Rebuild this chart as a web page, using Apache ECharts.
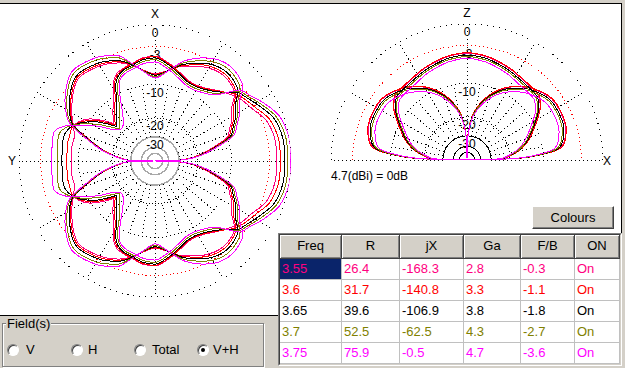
<!DOCTYPE html>
<html>
<head>
<meta charset="utf-8">
<script src="https://cdn.jsdelivr.net/npm/echarts@6.0.0/dist/echarts.min.js"></script>
<style>
html,body{margin:0;padding:0}
body{width:625px;height:368px;overflow:hidden;background:#d4d0c8;position:relative;font-family:"Liberation Sans",Arial,sans-serif}
#panel{position:absolute;left:0;top:3px;width:622px;height:313px;background:#fff;border-top:1px solid #000;border-right:1px solid #000;border-bottom:1px solid #000;box-sizing:border-box}
#chart{position:absolute;left:0;top:0;width:625px;height:368px}
#chart svg path{shape-rendering:crispEdges}
#tbl{position:absolute;left:278px;top:233px;width:344px;height:133px;background:#fff;box-sizing:border-box;border-top:1px solid #808080;border-left:1px solid #808080;border-right:1px solid #fff;border-bottom:1px solid #fff}
#tblIn{position:absolute;left:0;top:0;right:0;bottom:0;border-top:1px solid #404040;border-left:1px solid #404040;border-right:1px solid #d4d0c8;border-bottom:1px solid #d4d0c8}
.c{position:absolute;box-sizing:border-box;font-size:13px;line-height:20px;white-space:nowrap;overflow:hidden}
.h{background:#d4d0c8;text-align:center;color:#000;border-right:1px solid #404040;border-bottom:1px solid #404040;box-shadow:inset 1px 1px 0 #fff,inset -1px -1px 0 #808080;line-height:22px}
.d{border-right:1px solid #c0c0c0;border-bottom:1px solid #c0c0c0;padding-left:2px}
#field{position:absolute;left:2px;top:323px;width:260px;height:42px;border:1px solid #808080;box-shadow:1px 1px 0 #fff,inset 1px 1px 0 #fff}
#fieldLab{position:absolute;left:6px;top:316px;background:#d4d0c8;padding:0 1px;font-size:13px;line-height:16px}
.rb{position:absolute;top:344px;width:12px;height:12px;border-radius:50%;box-sizing:border-box;background:#fff;border:1px solid;border-color:#808080 #fff #fff #808080;box-shadow:inset 1px 1px 0 #404040}
.rb.on::after{content:"";position:absolute;left:3px;top:3px;width:4px;height:4px;border-radius:50%;background:#000}
.rl{position:absolute;top:342px;font-size:13px;line-height:16px}
#btn{position:absolute;left:532px;top:206px;width:82px;height:23px;box-sizing:border-box;background:#d4d0c8;border:1px solid;border-color:#fff #404040 #404040 #fff;box-shadow:inset -1px -1px 0 #808080;font-size:13px;text-align:center;line-height:21px}
</style>
</head>
<body>
<div id="panel"></div>
<div id="chart"></div>
<div id="btn">Colours</div>
<div id="field"></div>
<div id="fieldLab">Field(s)</div>
<div class="rb" style="left:7px"></div><div class="rl" style="left:26px">V</div>
<div class="rb" style="left:71px"></div><div class="rl" style="left:88px">H</div>
<div class="rb" style="left:134px"></div><div class="rl" style="left:152px">Total</div>
<div class="rb on" style="left:197px"></div><div class="rl" style="left:213px">V+H</div>
<div id="tbl"><div id="tblIn"></div></div>
<script>
// ---------- table data ----------
const freqs = ['3.55','3.6','3.65','3.7','3.75'];
const resR  = ['26.4','31.7','39.6','52.5','75.9'];
const resJX = ['-168.3','-140.8','-106.9','-62.5','-0.5'];
const gain  = ['2.8','3.3','3.8','4.3','4.7'];
const fb    = ['-0.3','-1.1','-1.8','-2.7','-3.6'];
const onOff = ['On','On','On','On','On'];
const headers = ['Freq','R','jX','Ga','F/B','ON'];
const colors = ['#ff0080','#ff0000','#000000','#808000','#ff00ff'];

// ---------- azimuth (horizontal plane) pattern, dB, angle in deg (0 = right, CCW); symmetric about the Y axis ----------
const hAngA = [0,10,20,28,35,40,48,56,62,68,75,81,90,97,103,109,114,118,122,130,138,142,147,152,157,163,170,180];
const hA_355 = [-1.9,-1.9,-2.4,-3.6,-4.3,-5.0,-6.3,-7.5,-7.9,-7.7,-6.7,-5.7,-4.5,-4.7,-5.3,-5.7,-6.2,-7.5,-9.8,-12.7,-15.5,-12.6,-9.8,-8.2,-7.5,-8.3,-8.3,-8.5];
const hA_360 = [-1.4,-1.4,-1.9,-3.1,-3.9,-4.6,-6.4,-7.6,-8.0,-7.8,-6.8,-5.8,-4.6,-4.8,-5.4,-5.8,-6.5,-7.9,-10.3,-13.4,-16.2,-13.4,-10.3,-8.5,-7.3,-7.35,-7.35,-7.55];
const hA_365 = [-0.8,-0.8,-1.3,-2.5,-3.5,-4.2,-6.6,-7.8,-8.2,-8.0,-7.0,-6.0,-4.8,-5.0,-5.6,-6.0,-6.8,-8.4,-11.0,-14.2,-17.0,-14.2,-11.0,-8.8,-7.2,-6.4,-6.4,-6.6];
const hA_370 = [-0.4,-0.4,-0.9,-2.1,-3.2,-3.9,-7.0,-8.2,-8.6,-8.4,-7.4,-6.4,-5.1,-5.3,-5.9,-6.3,-7.3,-9.3,-12.2,-15.8,-18.0,-15.8,-12.3,-9.4,-7.0,-5.5,-5.5,-5.7];
const hA_375 = [0.0,0.0,-0.5,-1.7,-2.9,-3.6,-7.4,-8.6,-9.0,-8.8,-7.8,-6.8,-5.5,-5.7,-6.3,-6.7,-7.8,-10.4,-13.5,-17.7,-18.5,-17.2,-13.6,-10.1,-6.9,-4.6,-4.6,-4.8];

const hAngB = [0,2,4,7,11,18,24,28,34,40,49,57,65,74,81,90,97,103,110,120,133,146,153,157,162,168,174,178,180];
const hB_355 = [-99,-30.8,-24.8,-20.3,-16.2,-10.2,-8.8,-7.8,-6.7,-4.7,-3.8,-3.9,-4.6,-5.6,-6.8,-7.7,-6.9,-5.7,-4.6,-3.7,-3.3,-5.3,-6.6,-7.9,-11.8,-16.3,-22.5,-28.3,-99];
const hB_360 = [-99,-30.4,-24.4,-19.9,-15.8,-9.8,-8.4,-7.4,-6.3,-4.4,-3.5,-3.6,-4.3,-5.5,-6.8,-7.8,-6.95,-5.65,-4.4,-3.45,-3.05,-5.05,-6.4,-7.75,-11.65,-16.15,-22.35,-28.15,-99];
const hB_365 = [-99,-30.0,-24.0,-19.5,-15.4,-9.4,-8.0,-7.0,-5.9,-4.0,-3.1,-3.2,-4.0,-5.3,-6.8,-8.0,-7.0,-5.6,-4.2,-3.2,-2.8,-4.8,-6.2,-7.6,-11.5,-16.0,-22.2,-28.0,-99];
const hB_370 = [-99,-29.6,-23.6,-19.1,-15.0,-9.0,-7.6,-6.6,-5.5,-3.5,-2.6,-2.7,-3.6,-5.0,-6.8,-8.3,-7.1,-5.5,-3.7,-2.65,-2.25,-4.25,-5.8,-7.3,-11.2,-15.7,-21.9,-27.7,-99];
const hB_375 = [-99,-29.2,-23.2,-18.7,-14.6,-8.6,-7.2,-6.2,-5.1,-3.0,-2.1,-2.2,-3.1,-4.7,-6.8,-8.6,-7.2,-5.4,-3.3,-2.3,-1.9,-3.9,-5.5,-7.0,-11.0,-15.5,-21.7,-27.5,-99];

// ---------- elevation (vertical plane) pattern, dB, angle 90 = zenith; symmetric about zenith ----------
const vAngA = [90,100,107,115,124,132,138,144,150,156,162,168,172,176,178,180];
const vA_355 = [-4.2,-4.45,-4.8,-5.2,-5.7,-5.9,-6.0,-7.1,-9.0,-11.0,-12.9,-15.4,-18.0,-21.0,-23.3,-99];
const vA_360 = [-4.1,-4.35,-4.7,-5.1,-5.6,-5.8,-5.9,-7.0,-8.9,-10.9,-12.8,-15.3,-17.9,-20.9,-23.2,-99];
const vA_365 = [-4.5,-4.75,-5.1,-5.5,-6.0,-6.2,-6.3,-7.4,-9.3,-11.3,-13.2,-15.7,-18.3,-21.3,-23.6,-99];
const vA_370 = [-4.75,-5.0,-5.35,-5.8,-6.3,-6.5,-6.6,-7.7,-9.6,-11.6,-13.5,-16.0,-18.6,-21.6,-23.9,-99];
const vA_375 = [-5.05,-5.35,-5.75,-6.2,-6.8,-7.0,-7.1,-8.2,-10.2,-12.2,-14.1,-16.6,-19.2,-22.2,-24.5,-99];

const vAngB = [90,92,94,98,106,114,123,132,144,155,163,172,175,178,180];
const vB_355 = [-99,-30.2,-24.2,-18.2,-13.3,-10.1,-7.7,-6.0,-4.6,-4.5,-4.8,-6.1,-8.9,-16.1,-99];
const vB_360 = [-99,-30.1,-24.1,-18.1,-13.2,-10.0,-7.6,-5.9,-4.5,-4.4,-4.7,-6.0,-8.8,-16.0,-99];
const vB_365 = [-99,-30.5,-24.5,-18.5,-13.6,-10.4,-8.0,-6.3,-4.9,-4.8,-5.1,-6.4,-9.2,-16.4,-99];
const vB_370 = [-99,-30.8,-24.8,-18.8,-13.9,-10.7,-8.3,-6.6,-5.2,-5.1,-5.4,-6.7,-9.5,-16.7,-99];
const vB_375 = [-99,-31.4,-25.4,-19.4,-14.5,-11.3,-8.9,-7.2,-5.8,-5.7,-6.0,-7.3,-10.1,-17.3,-99];

const ringDb = [0,-3,-10,-20,-30];
const ringLabels = ['0','-3','-10','-20','-30'];
const refText = '4.7(dBi) = 0dB';

// ---------- table (HTML) ----------
(function(){
  const tb = document.getElementById('tblIn');
  const widths = [62,58,64,57,54,45];
  let x = 0;
  headers.forEach((h,i)=>{
    const d=document.createElement('div'); d.className='c h';
    d.style.cssText=`left:${x}px;top:0;width:${widths[i]}px;height:24px`;
    d.textContent=h; tb.appendChild(d); x+=widths[i];
  });
  const cols=[freqs,resR,resJX,gain,fb,onOff];
  for(let r=0;r<freqs.length;r++){
    x=0;
    for(let ci=0;ci<cols.length;ci++){
      const d=document.createElement('div'); d.className='c d';
      d.style.cssText=`left:${x}px;top:${24+r*21}px;width:${widths[ci]}px;height:21px;color:${colors[r]}`;
      if(r===0&&ci===0){d.style.background='#0a246a';}
      d.textContent=cols[ci][r]; tb.appendChild(d); x+=widths[ci];
    }
  }
})();

// ---------- chart ----------
const toR = db => Math.pow(10, db/40);   // MMANA radial scale (0 dB at the outer ring)
function azLoop(ang, vals){
  const out=[];
  for(let i=0;i<ang.length;i++) out.push([toR(vals[i]), ang[i]]);
  for(let i=ang.length-2;i>=0;i--) out.push([toR(vals[i]), 360-ang[i]]);
  return out;
}
function elArc(ang, vals){
  const out=[];
  for(let i=ang.length-1;i>=1;i--) out.push([toR(vals[i]), 180-ang[i]]);
  for(let i=0;i<ang.length;i++) out.push([toR(vals[i]), ang[i]]);
  return out;
}
const FONT='12px "Liberation Sans", Arial, sans-serif';
function gridRender(full, innerColor, innerWidth, axisA, axisB){
  return function(params, api){
    const c = api.coord([0,0]);
    const rr = db => c[1]-api.coord([toR(db),90])[1];
    const ch=[];
    const ring=(db,stroke,dash,w)=>{
      const r=rr(db);
      if(full) ch.push({type:'circle',shape:{cx:c[0],cy:c[1],r:r},style:{fill:'none',stroke:stroke,lineWidth:w||1,lineDash:dash}});
      else ch.push({type:'arc',shape:{cx:c[0],cy:c[1],r:r,startAngle:Math.PI,endAngle:Math.PI*2,clockwise:true},style:{fill:'none',stroke:stroke,lineWidth:w||1,lineDash:dash}});
    };
    const maxA = full?350:180;
    for(let a=0;a<=maxA;a+=10){
      const main = a%30===0;
      const p1=api.coord([toR(-30),a]), p2=api.coord([toR(main?0:-10),a]);
      ch.push({type:'line',shape:{x1:p1[0],y1:p1[1],x2:p2[0],y2:p2[1]},style:{stroke:'#000',lineWidth:1,lineDash:[1,3]}});
    }
    ring(0,'#000',[1,5]);
    ring(-3,'#ff0000',[1,3]);
    ring(-10,'#000',[1,3]);
    ring(-20,'#000',[1,2]);
    ring(-30,innerColor,null,innerWidth);
    ring(-40,innerColor,null,innerWidth);
    ring(-50,innerColor,null,innerWidth);
    ringDb.forEach((db,i)=>{
      ch.push({type:'text',x:c[0],y:c[1]-rr(db)+2,style:{text:ringLabels[i],fill:'#000',font:FONT,align:'center',verticalAlign:'top',textAlign:'center',textVerticalAlign:'top'}});
    });
    const R=rr(0);
    ch.push({type:'text',x:c[0],y:c[1]-R-11,style:{text:axisA,fill:'#000',font:FONT,align:'center',verticalAlign:'middle',textAlign:'center',textVerticalAlign:'middle'}});
    if(full) ch.push({type:'text',x:c[0]-R-7,y:c[1],style:{text:axisB,fill:'#000',font:FONT,align:'center',verticalAlign:'middle',textAlign:'center',textVerticalAlign:'middle'}});
    else ch.push({type:'text',x:c[0]+R+4,y:c[1]+1,style:{text:axisB,fill:'#000',font:FONT,align:'center',verticalAlign:'middle',textAlign:'center',textVerticalAlign:'middle'}});
    return {type:'group',children:ch};
  };
}

const hA=[hA_355,hA_360,hA_365,hA_370,hA_375];
const hB=[hB_355,hB_360,hB_365,hB_370,hB_375];
const vA=[vA_355,vA_360,vA_365,vA_370,vA_375];
const vB=[vB_355,vB_360,vB_365,vB_370,vB_375];

const series=[
  {type:'custom',coordinateSystem:'polar',polarIndex:0,data:[[0,0]],renderItem:gridRender(true,'#a8a8a8',1.5,'X','Y'),silent:true,z:1},
  {type:'custom',coordinateSystem:'polar',polarIndex:1,data:[[0,0]],renderItem:gridRender(false,'#000',1,'Z','X'),silent:true,z:1}
];
freqs.forEach((f,k)=>{
  const base={type:'line',symbol:'none',smooth:0.3,silent:true,lineStyle:{color:colors[k],width:1},itemStyle:{color:colors[k]},z:2+k};
  series.push(Object.assign({},base,{name:f+'a',coordinateSystem:'polar',polarIndex:0,data:azLoop(hAngA,hA[k])}));
  series.push(Object.assign({},base,{name:f+'b',coordinateSystem:'polar',polarIndex:0,data:azLoop(hAngB,hB[k])}));
  series.push(Object.assign({},base,{name:f+'c',coordinateSystem:'polar',polarIndex:1,data:elArc(vAngA,vA[k])}));
  series.push(Object.assign({},base,{name:f+'d',coordinateSystem:'polar',polarIndex:1,data:elArc(vAngB,vB[k])}));
});

const axisOff={axisLine:{show:false},axisTick:{show:false},axisLabel:{show:false},splitLine:{show:false}};
const chart=echarts.init(document.getElementById('chart'),null,{renderer:'svg'});
chart.setOption({
  animation:false,
  polar:[{center:[155,161],radius:[0,136]},{center:[467,160],radius:[0,136]}],
  angleAxis:[
    Object.assign({polarIndex:0,type:'value',min:0,max:360,startAngle:0,clockwise:false},axisOff),
    Object.assign({polarIndex:1,type:'value',min:0,max:360,startAngle:0,clockwise:false},axisOff)
  ],
  radiusAxis:[
    Object.assign({polarIndex:0,type:'value',min:0,max:1},axisOff),
    Object.assign({polarIndex:1,type:'value',min:0,max:1},axisOff)
  ],
  graphic:[{type:'text',left:331,top:170,style:{text:refText,fill:'#000',font:FONT}}],
  series:series
});
</script>
</body>
</html>
